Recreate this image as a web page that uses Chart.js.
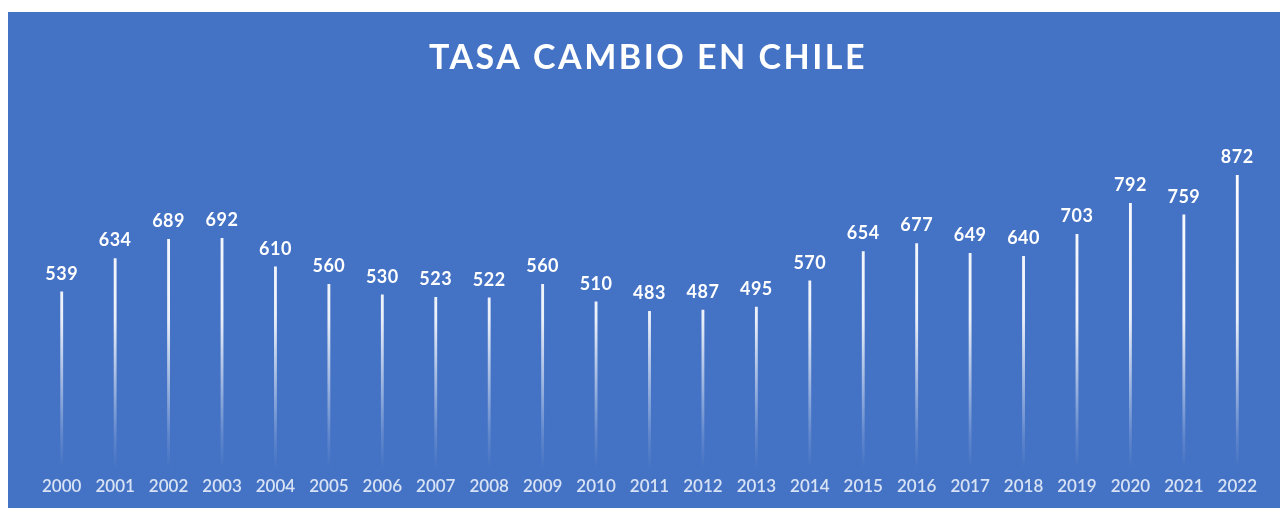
<!DOCTYPE html>
<html>
<head>
<meta charset="utf-8">
<script src="https://cdn.jsdelivr.net/npm/chart.js@4.4.1/dist/chart.umd.min.js"></script>
<style>
    html, body { margin: 0; padding: 0; background: #ffffff; }
    #frame {
        position: absolute; left: 8px; top: 12px;
        width: 1272px; height: 496px;
        background: #4472c4;
    }
    #frame canvas { display: block; }
</style>
</head>
<body>
<div id="frame"><canvas id="tasaChart" width="1272" height="496"></canvas></div>
<script>
// datos
const years = ['2000', '2001', '2002', '2003', '2004', '2005', '2006', '2007', '2008', '2009', '2010', '2011',
    '2012', '2013', '2014', '2015', '2016', '2017', '2018', '2019', '2020', '2021', '2022'];
const tasa = [539, 634, 689, 692, 610, 560, 530, 523, 522, 560, 510, 483,
    487, 495, 570, 654, 677, 649, 640, 703, 792, 759, 872];
const titulo = 'TASA CAMBIO EN CHILE';

// titulo con espaciado + etiquetas de valor sobre cada barra
const extraText = {
    id: 'extraText',
    afterDraw(chart) {
        const ctx = chart.ctx;
        const meta = chart.getDatasetMeta(0);
        ctx.save();
        ctx.fillStyle = '#ffffff';
        ctx.textAlign = 'center';

        ctx.letterSpacing = '2.5px';
        ctx.font = 'bold 34px Lato, sans-serif';
        ctx.textBaseline = 'middle';
        ctx.fillText(titulo, chart.width / 2 + 4, 46);

        ctx.letterSpacing = '0.5px';
        ctx.font = 'bold 18px Lato, sans-serif';
        ctx.textBaseline = 'bottom';
        meta.data.forEach(function (bar, i) {
            ctx.fillText(tasa[i], bar.x, bar.y - 9);
        });
        ctx.restore();
    }
};

const canvas = document.getElementById('tasaChart');

new Chart(canvas, {
    type: 'bar',
    data: {
        labels: years,
        datasets: [{
            data: tasa,
            barThickness: 2.2,
            borderWidth: 0,
            backgroundColor: function (context) {
                const area = context.chart.chartArea;
                if (!area) return '#ffffff';
                const g = context.chart.ctx.createLinearGradient(0, area.top, 0, area.bottom);
                g.addColorStop(0, 'rgba(255,255,255,1)');
                g.addColorStop(0.55, 'rgba(255,255,255,0.9)');
                g.addColorStop(0.9, 'rgba(255,255,255,0.15)');
                g.addColorStop(1, 'rgba(255,255,255,0)');
                return g;
            }
        }]
    },
    options: {
        responsive: false,
        animation: false,
        layout: { padding: { left: 27, right: 16, top: 0, bottom: 4 } },
        plugins: {
            legend: { display: false },
            tooltip: { enabled: false },
            title: {
                // solo reserva el espacio, el texto se dibuja en extraText
                display: true,
                text: titulo,
                color: 'rgba(0,0,0,0)',
                font: { family: 'Lato, sans-serif', size: 32, weight: 'bold' },
                padding: { top: 26, bottom: 54 }
            }
        },
        scales: {
            x: {
                grid: { display: false, drawTicks: false },
                border: { display: false },
                ticks: {
                    color: 'rgba(228,235,249,0.92)',
                    font: { family: 'Lato, sans-serif', size: 17, weight: '600' },
                    padding: 7,
                    maxRotation: 0,
                    autoSkip: false
                }
            },
            y: {
                display: false,
                min: 31,
                max: 1000
            }
        }
    },
    plugins: [extraText]
});
</script>
</body>
</html>
